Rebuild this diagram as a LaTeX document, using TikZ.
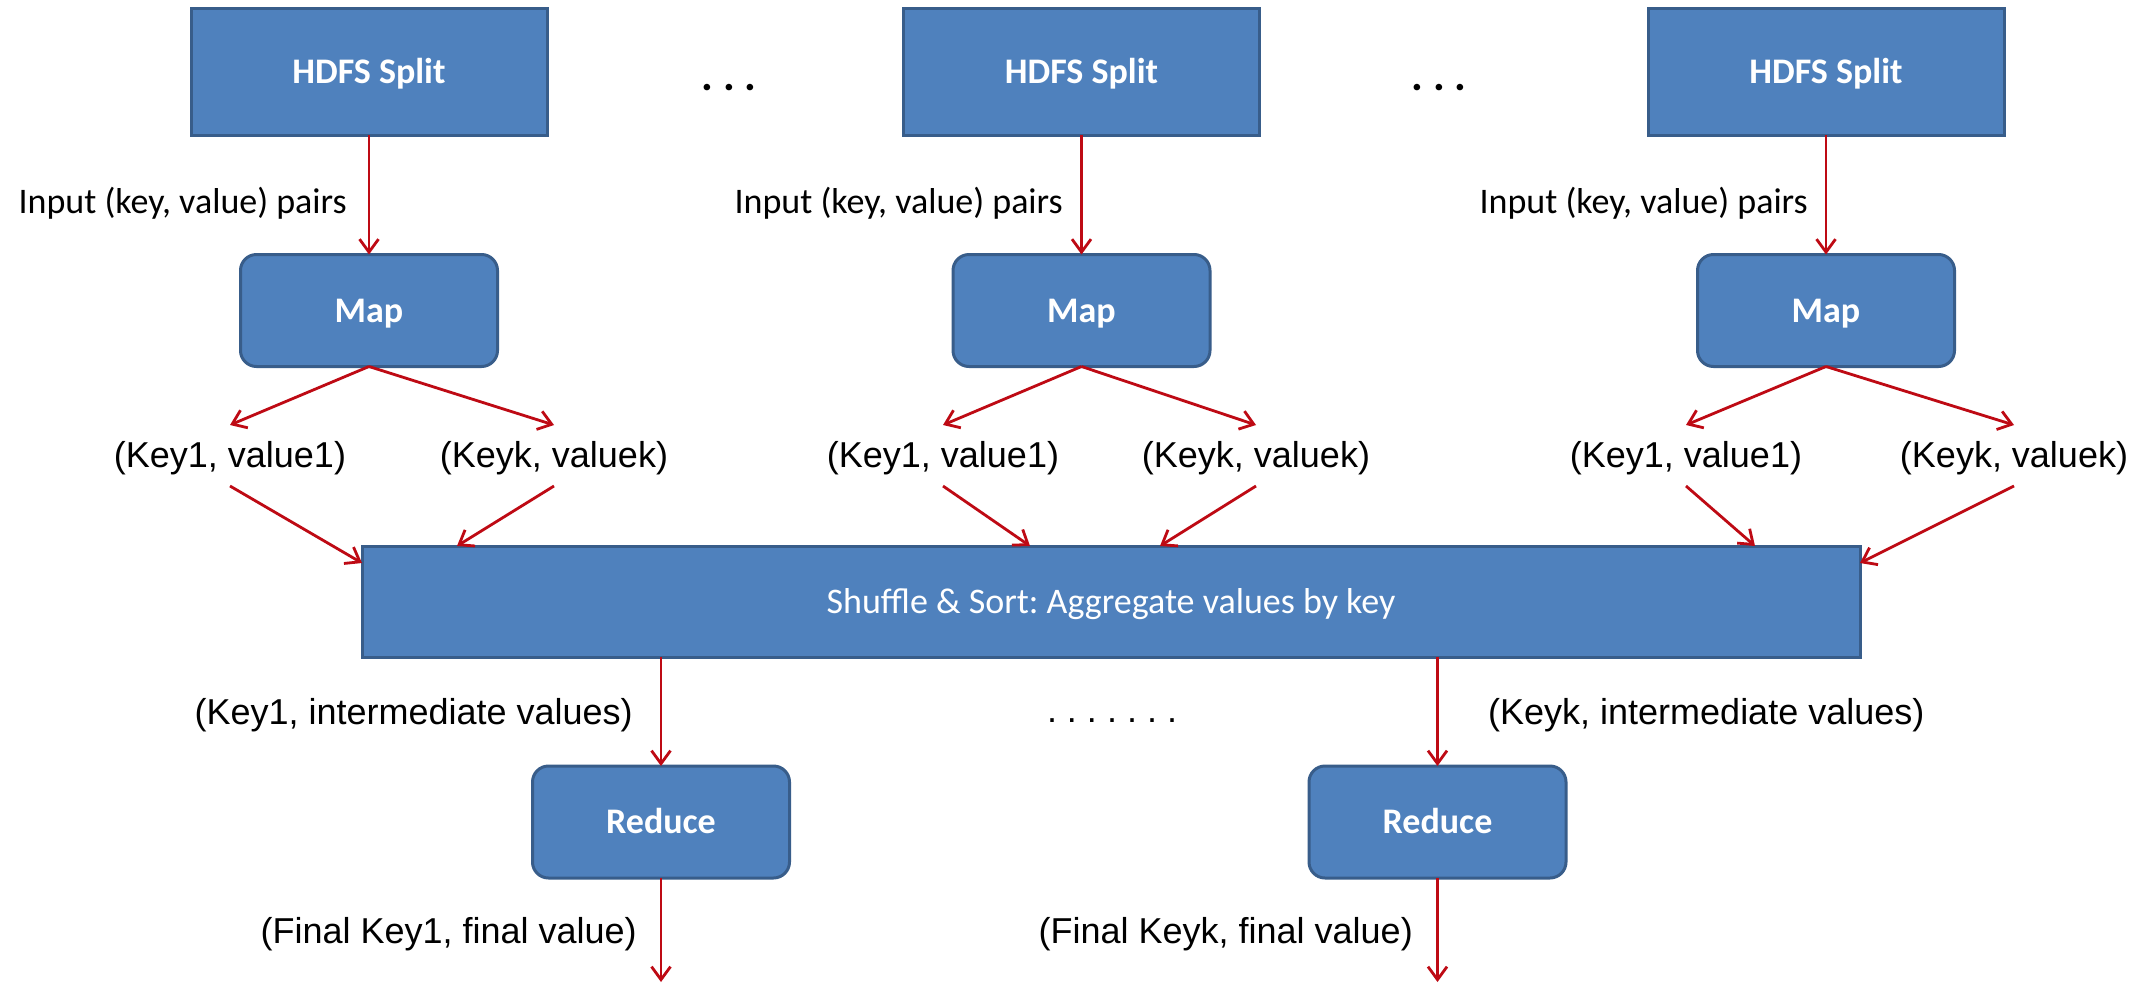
\documentclass[tikz,border=0pt]{standalone}
\usepackage{fontspec}
\setmainfont{Carlito}
\newfontfamily\arialfam{Liberation Sans}
\usetikzlibrary{arrows.meta}
\frenchspacing
\definecolor{boxfill}{HTML}{4F81BD}
\definecolor{boxline}{HTML}{385D8A}
\definecolor{arrred}{HTML}{BE0A14}
\newcommand\bxfont{\fontsize{36pt}{40pt}\selectfont\bfseries}
\newcommand\calfont{\fontsize{36pt}{40pt}\selectfont}
\newcommand\dotfont{\fontsize{44pt}{48pt}\selectfont\bfseries}
\newcommand\arfont{\arialfam\fontsize{36pt}{40pt}\selectfont}
\tikzset{
  box/.style={draw=boxline, fill=boxfill, line width=3pt, outer sep=0pt, inner sep=0pt,
    text=white, font=\bxfont, text height=23pt, text depth=0pt},
  hdfs/.style={box, minimum width=356pt, minimum height=127pt},
  mapbox/.style={box, rounded corners=16pt, minimum width=257pt, minimum height=112pt},
  shufbox/.style={box, font=\calfont, minimum width=1498pt, minimum height=111pt},
  arr/.style={draw=arrred, line width=2.8pt, -{Straight Barb[length=13pt,width=19pt]}},
  keylab/.style={inner sep=0pt, outer sep=0pt, font=\arfont, text height=42pt, text depth=19pt},
  arlab/.style={inner sep=0pt, font=\arfont},
  callab/.style={inner sep=0pt, font=\calfont},
}
\begin{document}
\begin{tikzpicture}[x=1pt,y=-1pt]
\path[use as bounding box, fill=white] (0,0) rectangle (2152,983);

% HDFS splits
\node[hdfs] (h1) at (369,71.5) {HDFS Split};
\node[hdfs] (h2) at (1081.5,71.5) {HDFS Split};
\node[hdfs] (h3) at (1826,71.5) {HDFS Split};
\node[inner sep=0pt, font=\dotfont, anchor=base] (d1) at (729,90) {. . .};
\node[inner sep=0pt, font=\dotfont, anchor=base] (d2) at (1439,90) {. . .};

% input labels
\node[callab, anchor=base east] (i1) at (347,213) {Input (key, value) pairs};
\node[callab, anchor=base east] (i2) at (1063,213) {Input (key, value) pairs};
\node[callab, anchor=base east] (i3) at (1808,213) {Input (key, value) pairs};

% maps
\node[mapbox] (m1) at (369,310.5) {Map};
\node[mapbox] (m2) at (1081.5,310.5) {Map};
\node[mapbox] (m3) at (1826,310.5) {Map};

\draw[arr] (h1.south) -- (m1.north);
\draw[arr] (h2.south) -- (m2.north);
\draw[arr] (h3.south) -- (m3.north);

% key/value labels (baseline at 467)
\node[keylab, anchor=base] (k1a) at (230,467) {(Key1, value1)};
\node[keylab, anchor=base] (k1b) at (554,467) {(Keyk, valuek)};
\node[keylab, anchor=base] (k2a) at (943,467) {(Key1, value1)};
\node[keylab, anchor=base] (k2b) at (1256,467) {(Keyk, valuek)};
\node[keylab, anchor=base] (k3a) at (1686,467) {(Key1, value1)};
\node[keylab, anchor=base] (k3b) at (2014,467) {(Keyk, valuek)};

\draw[arr] (m1.south) -- (k1a.north);
\draw[arr] (m1.south) -- (k1b.north);
\draw[arr] (m2.south) -- (k2a.north);
\draw[arr] (m2.south) -- (k2b.north);
\draw[arr] (m3.south) -- (k3a.north);
\draw[arr] (m3.south) -- (k3b.north);

% shuffle box
\node[shufbox] (sh) at (1111,601.5) {Shuffle \& Sort: Aggregate values by key};

\coordinate (e1a) at (362,563);
\coordinate (e1b) at (457,546);
\coordinate (e2a) at (1030,546);
\coordinate (e2b) at (1160,546);
\coordinate (e3a) at (1755,546);
\coordinate (e3b) at (1860,563);
\draw[arr] (k1a.south) -- (e1a);
\draw[arr] (k1b.south) -- (e1b);
\draw[arr] (k2a.south) -- (e2a);
\draw[arr] (k2b.south) -- (e2b);
\draw[arr] (k3a.south) -- (e3a);
\draw[arr] (k3b.south) -- (e3b);

% reduces
\node[mapbox] (r1) at (661,822) {Reduce};
\node[mapbox] (r2) at (1437.5,822) {Reduce};

\draw[arr] (r1.north |- sh.south) -- (r1.north);
\draw[arr] (r2.north |- sh.south) -- (r2.north);

\node[arlab, anchor=base east] (l1) at (633,724) {(Key1, intermediate values)};
\node[arlab, anchor=base west] (l2) at (1488,724) {(Keyk, intermediate values)};
\node[arlab, anchor=base] (dots) at (1112,722) {. . . . . . .};

\coordinate (o1) at (661,982);
\coordinate (o2) at (1437.5,982);
\draw[arr] (r1.south) -- (o1);
\draw[arr] (r2.south) -- (o2);

\node[arlab, anchor=base east] (f1) at (637,943) {(Final Key1, final value)};
\node[arlab, anchor=base east] (f2) at (1413,943) {(Final Keyk, final value)};
\end{tikzpicture}
\end{document}
